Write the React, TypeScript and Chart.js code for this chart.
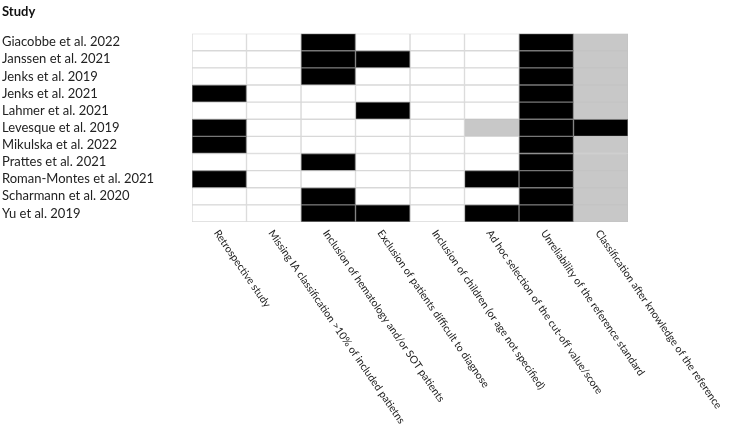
import React, { useEffect, useRef } from "react";
import { Chart, registerables } from "chart.js";

Chart.register(...registerables);

const studies = [
  "Giacobbe et al. 2022",
  "Janssen et al. 2021",
  "Jenks et al. 2019",
  "Jenks et al. 2021",
  "Lahmer et al. 2021",
  "Levesque et al. 2019",
  "Mikulska et al. 2022",
  "Prattes et al. 2021",
  "Roman-Montes et al. 2021",
  "Scharmann et al. 2020",
  "Yu et al. 2019",
];

const criteria = [
  "Retrospective study",
  "Missing IA classification >10% of included patietns",
  "Inclusion of hematology and/or SOT patients",
  "Exclusion of patients difficult to diagnose",
  "Inclusion of children (or age not specified)",
  "Ad hoc selection of the cut-off value/score",
  "Unreliability of the reference standard",
  "Classification after knowledge of the reference",
];

// 0 = low risk (white), 1 = high risk (black), 2 = unclear (grey); one row per study
const giacobbe2022 = [0, 0, 1, 0, 0, 0, 1, 2];
const janssen2021 = [0, 0, 1, 1, 0, 0, 1, 2];
const jenks2019 = [0, 0, 1, 0, 0, 0, 1, 2];
const jenks2021 = [1, 0, 0, 0, 0, 0, 1, 2];
const lahmer2021 = [0, 0, 0, 1, 0, 0, 1, 2];
const levesque2019 = [1, 0, 0, 0, 0, 2, 1, 1];
const mikulska2022 = [1, 0, 0, 0, 0, 0, 1, 2];
const prattes2021 = [0, 0, 1, 0, 0, 0, 1, 2];
const romanMontes2021 = [1, 0, 0, 0, 0, 1, 1, 2];
const scharmann2020 = [0, 0, 1, 0, 0, 0, 1, 2];
const yu2019 = [0, 0, 1, 1, 0, 1, 1, 2];

const scores = [
  giacobbe2022, janssen2021, jenks2019, jenks2021, lahmer2021, levesque2019,
  mikulska2022, prattes2021, romanMontes2021, scharmann2020, yu2019,
];

const COLORS = ["#ffffff", "#000000", "#c8c8c8"];

const FONT = "Lato, 'Open Sans', sans-serif";

const bottomLabels = {
  id: "bottomLabels",
  afterDraw(chart: any) {
    const ctx = chart.ctx;
    const xs = chart.scales.x;
    const top = chart.chartArea.bottom + 9;
    ctx.save();
    ctx.fillStyle = "#222";
    ctx.font = `10.5px ${FONT}`;
    ctx.textAlign = "left";
    ctx.textBaseline = "middle";
    criteria.forEach((c, i) => {
      const x = xs.getPixelForValue(i + 0.5) - 3;
      ctx.save();
      ctx.translate(x, top);
      ctx.rotate((55.5 * Math.PI) / 180);
      ctx.fillText(c, 0, 0);
      ctx.restore();
    });
    ctx.restore();
  },
};

export default function App() {
  const ref = useRef<HTMLCanvasElement | null>(null);
  useEffect(() => {
    document.body.style.margin = "0";
    const datasets = criteria.map((c, j) => ({
      label: c,
      data: studies.map(() => 1),
      backgroundColor: scores.map((r) => COLORS[r[j]]),
      borderColor: scores.map((r) => (r[j] === 2 ? "#c4c4c4" : r[j] === 1 ? "#777777" : "#d8d8d8")),
      borderWidth: 1,
      borderSkipped: false,
      categoryPercentage: 1,
      barPercentage: 1,
    }));
    const chart = new Chart(ref.current!, {
      type: "bar",
      data: { labels: studies, datasets },
      plugins: [bottomLabels],
      options: {
        indexAxis: "y",
        animation: false,
        responsive: false,
        maintainAspectRatio: false,
        layout: { padding: { top: 0, bottom: 211, right: 101, left: 2 } },
        plugins: {
          legend: { display: false },
          tooltip: { enabled: false },
          title: {
            display: true,
            text: "Study",
            align: "start",
            color: "#111",
            font: { family: FONT, size: 13, weight: "bold" },
            padding: { top: 4, bottom: 14 },
          },
        },
        scales: {
          x: { stacked: true, min: 0, max: 8, display: false },
          y: {
            stacked: true,
            grid: { display: false },
            border: { display: false },
            ticks: {
              autoSkip: false,
              crossAlign: "far",
              color: "#222",
              font: { family: FONT, size: 13 },
              padding: 4,
            },
            afterFit: (s: any) => {
              s.width = 190;
            },
          },
        },
      },
    } as any);
    return () => chart.destroy();
  }, []);
  return (
    <div style={{ width: 729, height: 433 }}>
      <canvas ref={ref} width={729} height={433} />
    </div>
  );
}
